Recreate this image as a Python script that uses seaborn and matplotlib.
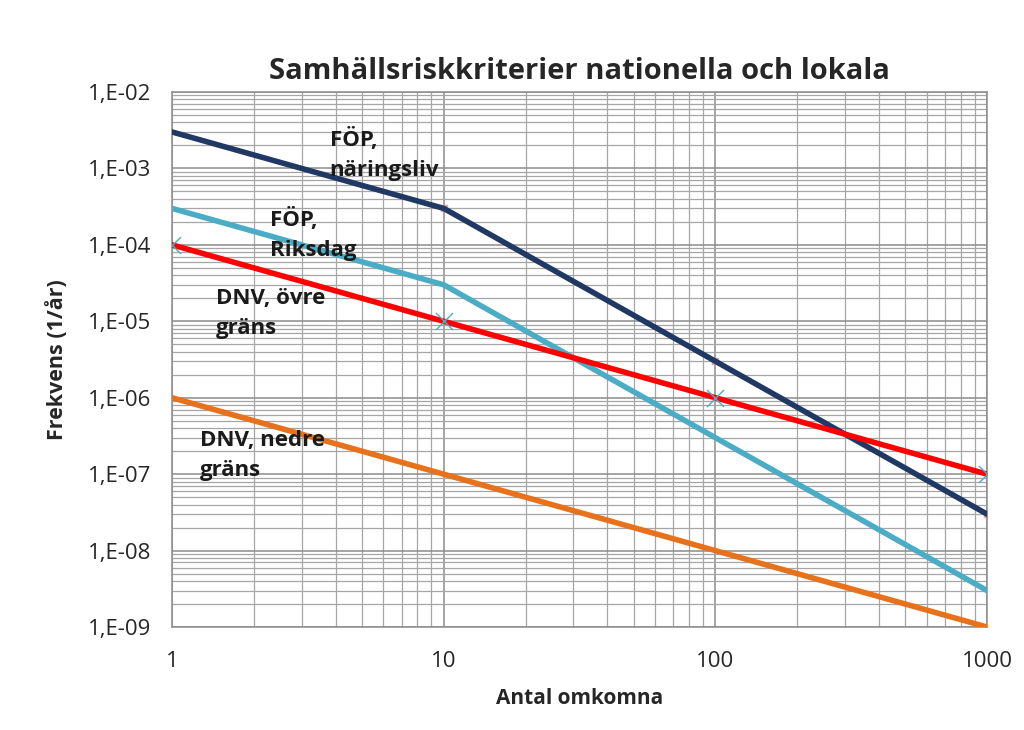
import numpy as np
import pandas as pd
import matplotlib
matplotlib.use("Agg")
import matplotlib.pyplot as plt
import matplotlib.ticker as mticker
import seaborn as sns

# ----------------------------- #
#  Data
# ----------------------------- #
antal = [1, 10, 100, 1000]
fop_naringsliv = [3e-3, 3e-4, 3e-6, 3e-8]
fop_riksdag = [3e-4, 3e-5, 3e-7, 3e-9]
dnv_ovre = [1e-4, 1e-5, 1e-6, 1e-7]
dnv_nedre = [1e-6, 1e-7, 1e-8, 1e-9]

series = ["FÖP, näringsliv", "FÖP, Riksdag", "DNV, övre gräns", "DNV, nedre gräns"]
colors = ["#203864", "#4BACC6", "#FF0000", "#E8721C"]

df = pd.DataFrame({
    "Antal": antal * 4,
    "Frekvens": fop_naringsliv + fop_riksdag + dnv_ovre + dnv_nedre,
    "Serie": [s for s in series for _ in antal],
})

y_ticks = [1e-9, 1e-8, 1e-7, 1e-6, 1e-5, 1e-4, 1e-3, 1e-2]
x_ticks = [1, 10, 100, 1000]

# ----------------------------- #
#  Plot
# ----------------------------- #
sns.set_style("white")
plt.rcParams["font.family"] = ["Open Sans", "DejaVu Sans"]

fig = plt.figure(figsize=(10.24, 7.3), dpi=100)
ax = fig.add_axes([0.168, 0.141, 0.796, 0.733])

ax.set_xscale("log")
ax.set_yscale("log")

sns.lineplot(data=df, x="Antal", y="Frekvens", hue="Serie", hue_order=series,
             palette=colors, linewidth=4.0, legend=False, ax=ax, zorder=3)

# small markers as in the original
ax.scatter(antal, dnv_ovre, marker="x", s=150, color="#4BACC6", linewidths=1.0, zorder=4)
ax.scatter(antal[1:], fop_naringsliv[1:], marker="s", s=14, color="#E8A0A8", zorder=2)

ax.set_xlim(1, 1000)
ax.set_ylim(1e-9, 1e-2)

ax.xaxis.set_major_locator(mticker.FixedLocator(x_ticks))
ax.xaxis.set_minor_locator(mticker.LogLocator(base=10, subs=np.arange(2, 10)))
ax.yaxis.set_major_locator(mticker.FixedLocator(y_ticks))
ax.yaxis.set_minor_locator(mticker.LogLocator(base=10, subs=np.arange(2, 10), numticks=20))
ax.xaxis.set_major_formatter(mticker.FixedFormatter([str(v) for v in x_ticks]))
ax.yaxis.set_major_formatter(mticker.FuncFormatter(
    lambda v, p: "1,E-%02d" % round(-np.log10(v))))
ax.xaxis.set_minor_formatter(mticker.NullFormatter())
ax.yaxis.set_minor_formatter(mticker.NullFormatter())

ax.grid(True, which="major", color="#8C8C8C", linewidth=1.1, zorder=0)
ax.grid(True, which="minor", color="#A6A6A6", linewidth=0.9, zorder=0)
ax.set_axisbelow(True)

for s in ax.spines.values():
    s.set_color("#8C8C8C")
    s.set_linewidth(1.1)

ax.tick_params(axis="both", which="major", length=6, color="#8C8C8C",
               labelsize=16, direction="out")
ax.tick_params(axis="y", which="major", pad=9)
ax.tick_params(axis="x", which="major", pad=11)
ax.tick_params(which="minor", length=0)

ax.set_title("Samhällsriskkriterier nationella och lokala", fontsize=21,
             fontweight="bold", pad=9)
ax.set_xlabel("Antal omkomna", fontsize=15, fontweight="bold", labelpad=12)
ax.set_ylabel("Frekvens (1/år)", fontsize=15.5, fontweight="bold", labelpad=14)

# annotations
labels = [
    ("FÖP,\nnäringsliv", 3.8, 10 ** -2.47),
    ("FÖP,\nRiksdag", 2.29, 10 ** -3.52),
    ("DNV, övre\ngräns", 1.45, 10 ** -4.57),
    ("DNV, nedre\ngräns", 1.27, 10 ** -6.42),
]
for txt, x, y in labels:
    ax.text(x, y, txt, fontsize=16, fontweight="bold", ha="left", va="top",
            linespacing=1.55, color="#1A1A1A", zorder=5)

fig.savefig("out.png", dpi=100)
